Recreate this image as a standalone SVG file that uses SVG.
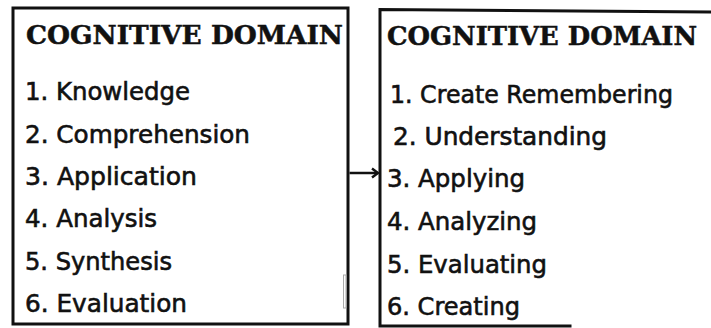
<svg xmlns="http://www.w3.org/2000/svg" width="711" height="328" viewBox="0 0 711 328">
  <defs>
    <style>
      .box { fill: none; stroke: #111; stroke-width: 3; }
      .edge { fill: none; stroke: #111; stroke-width: 3; stroke-linecap: square; }
      .head { font-family: "DejaVu Serif", "Liberation Serif", serif; font-weight: bold; font-size: 26px; fill: #111; stroke: #111; stroke-width: 0.5; }
      .item { font-family: "DejaVu Sans", "Liberation Sans", sans-serif; font-size: 24px; fill: #111; stroke: #111; stroke-width: 0.6; }
      .conn { fill: none; stroke: #111; stroke-width: 2.5; }
    </style>
    <marker id="arrow" markerWidth="10" markerHeight="12" refX="8" refY="6" orient="auto" markerUnits="userSpaceOnUse">
      <path d="M2,1.5 L8,6 L2,10.5" fill="none" stroke="#111" stroke-width="2.4"/>
    </marker>
  </defs>
  <rect width="711" height="328" fill="#fff"/>

  <g id="node-old">
    <rect class="box" x="13" y="8" width="335" height="316"/>
    <rect x="343.5" y="275" width="2.5" height="33" fill="none" stroke="#aaa" stroke-width="1"/>
    <text class="head" x="26" y="44" textLength="317" lengthAdjust="spacingAndGlyphs">COGNITIVE  DOMAIN</text>
    <text class="item" x="25" y="100" textLength="165" lengthAdjust="spacingAndGlyphs">1. Knowledge</text>
    <text class="item" x="25" y="143" textLength="225" lengthAdjust="spacingAndGlyphs">2. Comprehension</text>
    <text class="item" x="25" y="185" textLength="172" lengthAdjust="spacingAndGlyphs">3. Application</text>
    <text class="item" x="25" y="227" textLength="132" lengthAdjust="spacingAndGlyphs">4. Analysis</text>
    <text class="item" x="25" y="270" textLength="147" lengthAdjust="spacingAndGlyphs">5. Synthesis</text>
    <text class="item" x="25" y="312" textLength="162" lengthAdjust="spacingAndGlyphs">6. Evaluation</text>
  </g>

  <g id="node-revised">
    <path class="edge" d="M711,12 L380,9.5 L380,326 L570,326"/>
    <text class="head" x="387" y="45" textLength="310" lengthAdjust="spacingAndGlyphs">COGNITIVE  DOMAIN</text>
    <text class="item" x="390" y="103" textLength="283" lengthAdjust="spacingAndGlyphs">1. Create Remembering</text>
    <text class="item" x="393" y="145" textLength="214" lengthAdjust="spacingAndGlyphs">2. Understanding</text>
    <text class="item" x="387" y="187" textLength="138" lengthAdjust="spacingAndGlyphs">3. Applying</text>
    <text class="item" x="387" y="230" textLength="150" lengthAdjust="spacingAndGlyphs">4. Analyzing</text>
    <text class="item" x="387" y="273" textLength="160" lengthAdjust="spacingAndGlyphs">5. Evaluating</text>
    <text class="item" x="387" y="315" textLength="133" lengthAdjust="spacingAndGlyphs">6. Creating</text>
  </g>

  <g id="connectors">
    <line class="conn" x1="349.5" y1="173" x2="378" y2="173" marker-end="url(#arrow)"/>
  </g>
</svg>
